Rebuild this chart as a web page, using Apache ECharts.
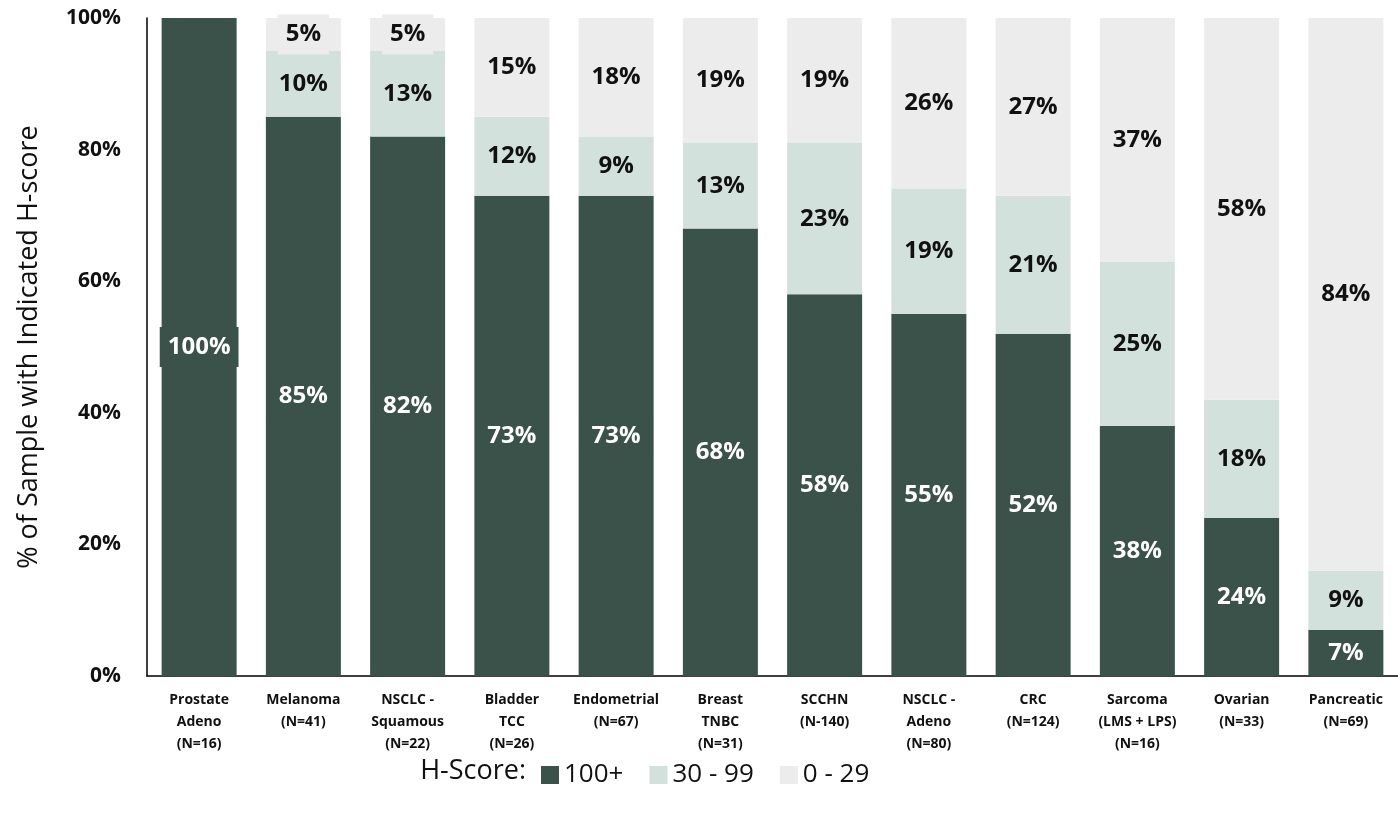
<!DOCTYPE html>
<html>
<head>
<meta charset="utf-8">
<script src="https://cdn.jsdelivr.net/npm/echarts@6/dist/echarts.min.js"></script>
<style>
  html, body { margin: 0; padding: 0; background: #fff; }
  #main { width: 1398px; height: 813px; }
</style>
</head>
<body>
<div id="main"></div>
<script>
const categories = [
  'Prostate\nAdeno\n(N=16)', 'Melanoma\n(N=41)', 'NSCLC -\nSquamous\n(N=22)', 'Bladder\nTCC\n(N=26)',
  'Endometrial\n(N=67)', 'Breast\nTNBC\n(N=31)', 'SCCHN\n(N-140)', 'NSCLC -\nAdeno\n(N=80)',
  'CRC\n(N=124)', 'Sarcoma\n(LMS + LPS)\n(N=16)', 'Ovarian\n(N=33)', 'Pancreatic\n(N=69)'
]
const high = [100, 85, 82, 73, 73, 68, 58, 55, 52, 38, 24, 7]
const mid = [0, 10, 13, 12, 9, 13, 23, 19, 21, 25, 18, 9]
const low = [0, 5, 5, 15, 18, 19, 19, 26, 27, 37, 58, 84]
const yTicks = [0, 20, 40, 60, 80, 100]

const font = '"Open Sans", sans-serif'
const colors = ['#3b524b', '#d3e1dc', '#ececec']

const makeSeries = (name, values, color, textColor) => ({
  name: name,
  type: 'bar',
  stack: 'total',
  barWidth: 75,
  itemStyle: { color: color },
  label: {
    show: true,
    position: 'inside',
    formatter: '{c}%',
    color: textColor,
    fontFamily: font,
    fontWeight: 'bold',
    fontSize: 24,
    backgroundColor: color,
    padding: [8, 8]
  },
  data: values.map(v => ({ value: v, label: { show: v > 0 } }))
})

const chart = echarts.init(document.getElementById('main'))
const option = {
  animation: false,
  grid: { left: 147, top: 18, width: 1264, bottom: 137, containLabel: false },
  legend: {
    left: 536,
    top: 757,
    icon: 'rect',
    itemWidth: 18,
    itemHeight: 18,
    itemGap: 26,
    textStyle: { fontFamily: font, fontSize: 26, color: '#111' },
    data: ['100+', '30 - 99', '0 - 29']
  },
  graphic: [{
    type: 'text',
    right: 1398 - 526,
    top: 758,
    style: { text: 'H-Score:', fontFamily: font, fontSize: 27, fill: '#111' }
  }],
  xAxis: {
    type: 'category',
    data: categories,
    axisLine: { lineStyle: { color: '#000', width: 1.5 } },
    axisTick: { show: false },
    axisLabel: {
      interval: 0,
      margin: 13,
      color: '#111',
      fontFamily: font,
      fontWeight: 'bold',
      fontSize: 14,
      lineHeight: 22
    }
  },
  yAxis: {
    type: 'value',
    min: yTicks[0],
    max: yTicks[yTicks.length - 1],
    interval: 20,
    name: '% of Sample with Indicated H-score',
    nameLocation: 'middle',
    nameGap: 104,
    nameTextStyle: { fontFamily: font, fontSize: 27, color: '#111' },
    axisLine: { show: true, lineStyle: { color: '#000', width: 1.5 } },
    axisTick: { show: false },
    splitLine: { show: false },
    axisLabel: {
      formatter: '{value}%',
      margin: 26,
      color: '#111',
      fontFamily: font,
      fontWeight: 'bold',
      fontSize: 21
    }
  },
  series: [
    makeSeries('100+', high, colors[0], '#fff'),
    makeSeries('30 - 99', mid, colors[1], '#111'),
    makeSeries('0 - 29', low, colors[2], '#111')
  ]
}
chart.setOption(option)
</script>
</body>
</html>
